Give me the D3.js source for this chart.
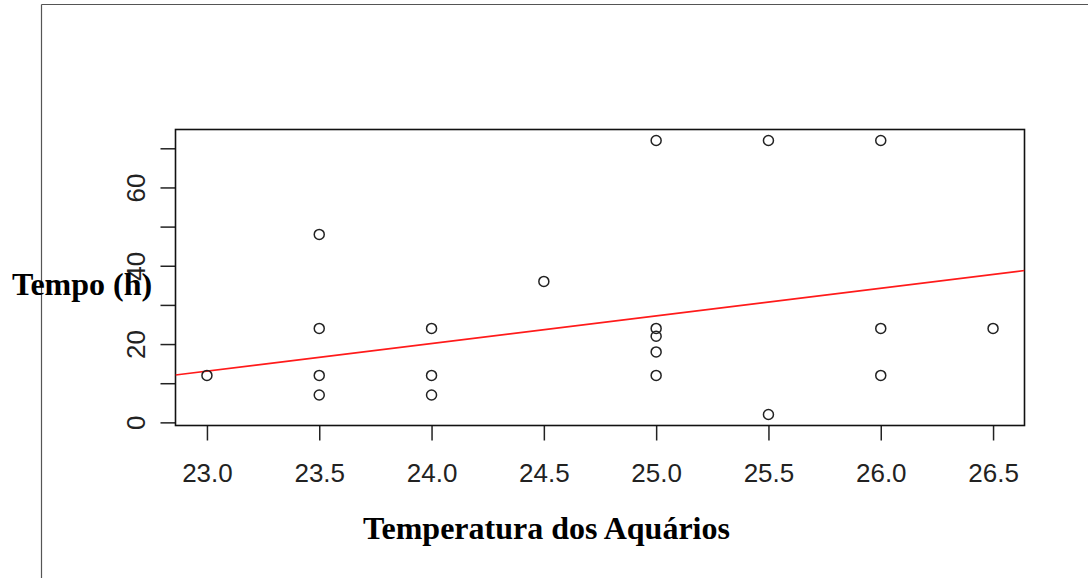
<!DOCTYPE html>
<html>
<head>
<meta charset="utf-8">
<script src="https://cdn.jsdelivr.net/npm/d3@7"></script>
<style>
  html, body { margin: 0; padding: 0; background: #fff; }
  svg { display: block; }
</style>
</head>
<body>
<svg id="chart" width="1088" height="578"></svg>
<script>
// Aquarium temperature (°C) and time (h) for each observation
const temperatura = [23.0, 23.5, 23.5, 23.5, 23.5, 24.0, 24.0, 24.0, 24.5,
                     25.0, 25.0, 25.0, 25.0, 25.0, 25.5, 25.5, 26.0, 26.0, 26.0, 26.5];
const tempo       = [12, 48, 24, 12, 7, 24, 12, 7, 36,
                     72, 24, 22, 18, 12, 72, 2, 72, 24, 12, 24];

// Fitted line: tempo = intercepto + inclinacao * temperatura
const intercepto = -149.3;
const inclinacao = 7.06;

const xTicks = [23.0, 23.5, 24.0, 24.5, 25.0, 25.5, 26.0, 26.5];
const yTicks = [0, 10, 20, 30, 40, 50, 60, 70];
const yTickLabels = [0, 20, 40, 60];

const svg = d3.select("#chart");

// Page frame
svg.append("line").attr("x1", 41.5).attr("y1", 4.5).attr("x2", 1088).attr("y2", 4.5)
  .attr("stroke", "#555").attr("stroke-width", 1.2);
svg.append("line").attr("x1", 41.5).attr("y1", 4.5).attr("x2", 41.5).attr("y2", 578)
  .attr("stroke", "#555").attr("stroke-width", 1.2);

const box = { left: 175.5, top: 129.5, right: 1024.5, bottom: 425.5 };

// R-style 4% padding on both axes
const xr = d3.extent(temperatura), yr = d3.extent(tempo);
const xPad = (xr[1] - xr[0]) * 0.04, yPad = (yr[1] - yr[0]) * 0.04;
const x = d3.scaleLinear().domain([xr[0] - xPad, xr[1] + xPad]).range([box.left, box.right]);
const y = d3.scaleLinear().domain([yr[0] - yPad, yr[1] + yPad]).range([box.bottom, box.top]);

const tickFont = "'Liberation Sans', Arial, sans-serif";

// x axis
const xAxis = svg.append("g").attr("transform", `translate(0,${box.bottom})`)
  .call(d3.axisBottom(x).tickValues(xTicks).tickSize(15).tickFormat(d3.format(".1f")));
xAxis.select(".domain").remove();
xAxis.selectAll(".tick line").attr("stroke", "#222").attr("stroke-width", 1.5);
xAxis.selectAll(".tick text").attr("font-family", tickFont).attr("font-size", 26)
  .attr("fill", "#222").attr("dy", 0).attr("y", 56);

// y axis
const yAxis = svg.append("g").attr("transform", `translate(${box.left},0)`)
  .call(d3.axisLeft(y).tickValues(yTicks).tickSize(15)
    .tickFormat(d => yTickLabels.includes(d) ? d : ""));
yAxis.select(".domain").remove();
yAxis.selectAll(".tick line").attr("stroke", "#222").attr("stroke-width", 1.5);
yAxis.selectAll(".tick text").attr("font-family", tickFont).attr("font-size", 26)
  .attr("fill", "#222").attr("text-anchor", "middle")
  .attr("x", 0).attr("dy", 0)
  .attr("transform", "translate(-40,0) rotate(-90) translate(0,9)");

// Plot box
svg.append("rect").attr("x", box.left).attr("y", box.top)
  .attr("width", box.right - box.left).attr("height", box.bottom - box.top)
  .attr("fill", "none").attr("stroke", "#111").attr("stroke-width", 1.6);

// Regression line, clipped to the plot box
svg.append("clipPath").attr("id", "plotclip").append("rect")
  .attr("x", box.left).attr("y", box.top)
  .attr("width", box.right - box.left).attr("height", box.bottom - box.top);
const [x0, x1] = x.domain();
svg.append("line").attr("clip-path", "url(#plotclip)")
  .attr("x1", x(x0)).attr("y1", y(intercepto + inclinacao * x0))
  .attr("x2", x(x1)).attr("y2", y(intercepto + inclinacao * x1))
  .attr("stroke", "#ff1a1a").attr("stroke-width", 1.6);

// Points
svg.append("g").selectAll("circle").data(temperatura).join("circle")
  .attr("cx", d => x(d)).attr("cy", (d, i) => y(tempo[i])).attr("r", 5)
  .attr("fill", "none").attr("stroke", "#222").attr("stroke-width", 1.5);

// Axis titles
const titleFont = "'Liberation Serif', 'Times New Roman', serif";
svg.append("text").attr("x", 12).attr("y", 295)
  .attr("font-family", titleFont).attr("font-weight", "bold").attr("font-size", 32)
  .attr("fill", "#000").text("Tempo (h)");
svg.append("text").attr("x", (363 + 730) / 2).attr("y", 539).attr("text-anchor", "middle")
  .attr("font-family", titleFont).attr("font-weight", "bold").attr("font-size", 32)
  .attr("fill", "#000").text("Temperatura dos Aquários");
</script>
</body>
</html>
